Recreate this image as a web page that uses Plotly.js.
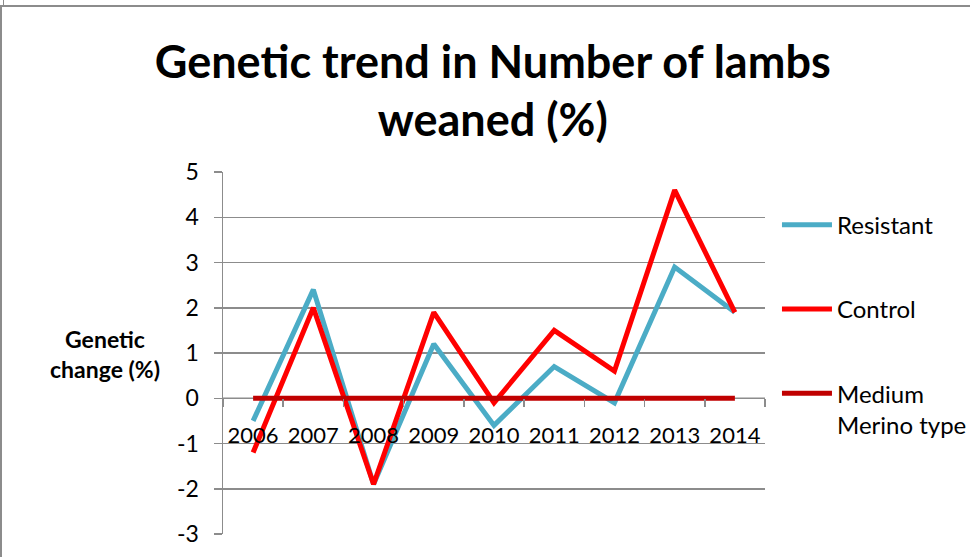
<!DOCTYPE html>
<html>
<head>
<meta charset="utf-8">
<script src="https://cdn.plot.ly/plotly-3.0.1.min.js"></script>
<style>
  html, body { margin:0; padding:0; background:#fff; }
  #chart { width:970px; height:557px; }
  #frame { position:absolute; left:0; top:5px; width:975px; height:560px;
           border-top:2px solid #8c8c8c; border-left:2px solid #8c8c8c; pointer-events:none; }
  #frame2 { position:absolute; left:3px; top:0; width:1px; height:5px; background:#8c8c8c; }
</style>
</head>
<body>
<div id="chart"></div>
<div id="frame"></div>
<div id="frame2"></div>
<script>
const years = ['2006','2007','2008','2009','2010','2011','2012','2013','2014'];
const resistant = [-0.5, 2.4, -1.9, 1.2, -0.6, 0.7, -0.1, 2.9, 1.9];
const control = [-1.2, 2.0, -1.9, 1.9, -0.1, 1.5, 0.6, 4.6, 1.9];
const mediumMerino = [0, 0, 0, 0, 0, 0, 0, 0, 0];
const seriesNames = ['Resistant', 'Control', 'Medium<br>Merino type'];
const yTicks = [-3, -2, -1, 0, 1, 2, 3, 4, 5];

const FONT = 'Lato, Carlito, Calibri, "Open Sans", sans-serif';

const traces = [
  {x: years, y: resistant, name: seriesNames[0], legendgroup: 'a', mode: 'lines',
   line: {color: '#4BACC6', width: 5}},
  {x: years, y: control, name: seriesNames[1], legendgroup: 'b', mode: 'lines',
   line: {color: '#FF0000', width: 5}},
  {x: years, y: mediumMerino, name: seriesNames[2], legendgroup: 'c', mode: 'lines',
   line: {color: '#C00000', width: 5}}
];

const layout = {
  width: 970, height: 557,
  margin: {l: 223, r: 205, t: 172, b: 23},
  paper_bgcolor: '#fff', plot_bgcolor: '#fff',
  font: {family: FONT, color: '#000', size: 23},
  title: {
    text: '<b>Genetic trend in Number of lambs<br>weaned (%)</b>',
    font: {family: FONT, size: 45, color: '#000'},
    x: 0.508, xref: 'container', xanchor: 'center',
    y: 0.86, yref: 'container', yanchor: 'middle'
  },
  xaxis: {
    type: 'category',
    anchor: 'free', position: 0.375,
    range: [-0.5, 8.5],
    showgrid: false, zeroline: false,
    showline: false,
    ticks: 'outside', tickson: 'boundaries', ticklen: 8, tickcolor: '#8c8c8c', tickwidth: 1.5,
    ticklabelstandoff: 22,
    tickangle: 0,
    tickfont: {family: FONT, size: 22, color: '#000'},
    fixedrange: true
  },
  yaxis: {
    range: [-3, 5],
    tickvals: yTicks,
    ticktext: yTicks.map(String),
    showgrid: true, gridcolor: '#8c8c8c', gridwidth: 1.5,
    zeroline: false,
    showline: true, linecolor: '#8c8c8c', linewidth: 1.5,
    ticks: 'outside', ticklen: 8, tickcolor: '#8c8c8c', tickwidth: 1.5,
    ticklabelstandoff: 10,
    tickfont: {family: FONT, size: 23, color: '#000'},
    fixedrange: true
  },
  shapes: [{
    type: 'line', layer: 'below',
    xref: 'paper', x0: 0, x1: 1, yref: 'y', y0: 0, y1: 0,
    line: {color: '#8c8c8c', width: 1.5}
  }],
  showlegend: true,
  legend: {
    xref: 'container', yref: 'container',
    x: 0.801, xanchor: 'left', y: 0.636, yanchor: 'top',
    font: {family: FONT, size: 24, color: '#000'},
    tracegroupgap: 50, valign: 'top',
    bgcolor: 'rgba(0,0,0,0)', itemwidth: 50
  },
  annotations: [{
    text: '<b>Genetic<br>change (%)</b>',
    xref: 'paper', yref: 'paper',
    x: (105 - 223) / 542, y: (534 - 354) / 362,
    xanchor: 'center', yanchor: 'middle',
    showarrow: false, align: 'center',
    font: {family: FONT, size: 23, color: '#000'}
  }]
};

Plotly.newPlot('chart', traces, layout, {displayModeBar: false, staticPlot: true});
</script>
</body>
</html>
